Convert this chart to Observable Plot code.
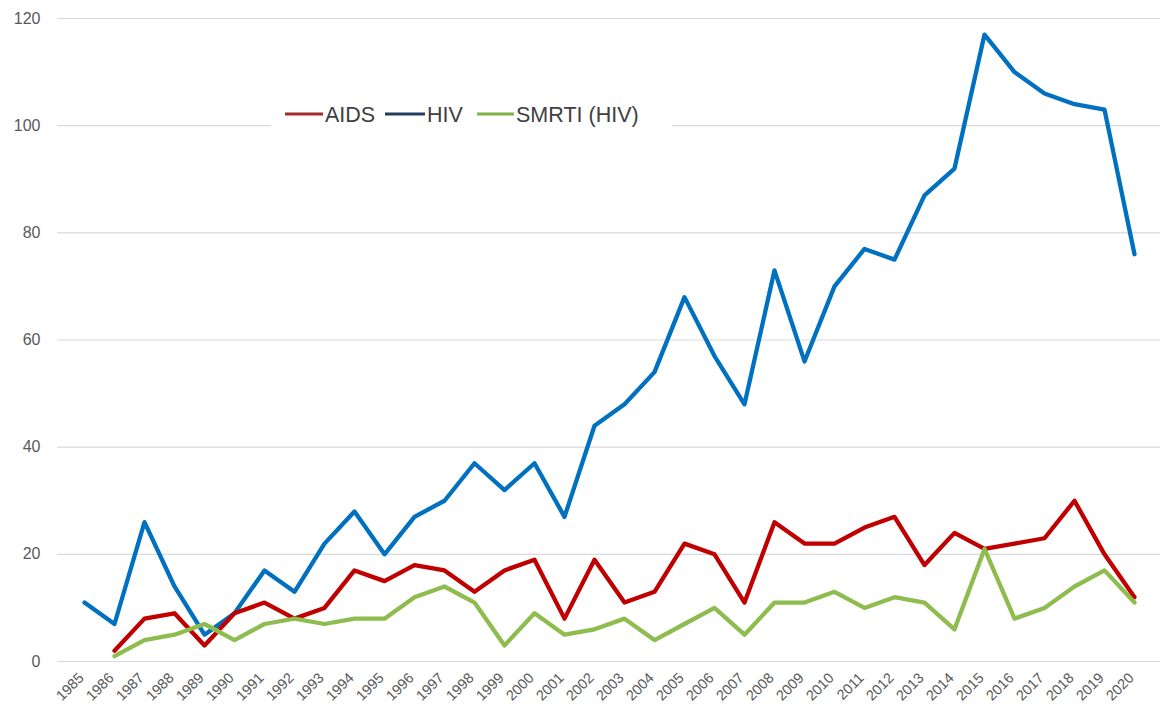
<!DOCTYPE html>
<html>
<head>
<meta charset="utf-8">
<script src="https://cdn.jsdelivr.net/npm/d3@7"></script>
<script src="https://cdn.jsdelivr.net/npm/@observablehq/plot@0.6"></script>
<style>
  html, body { margin: 0; padding: 0; background: #fff; }
  #chart svg { display: block; font-family: "Liberation Sans", Arial, sans-serif; }
</style>
</head>
<body>
<div id="chart"></div>
<script>
// ---- data ----
const years = [1985,1986,1987,1988,1989,1990,1991,1992,1993,1994,1995,1996,1997,1998,1999,2000,2001,2002,2003,2004,2005,2006,2007,2008,2009,2010,2011,2012,2013,2014,2015,2016,2017,2018,2019,2020];
const aids  = [null,2,8,9,3,9,11,8,10,17,15,18,17,13,17,19,8,19,11,13,22,20,11,26,22,22,25,27,18,24,21,22,23,30,20,12];
const hiv   = [11,7,26,14,5,9,17,13,22,28,20,27,30,37,32,37,27,44,48,54,68,57,48,73,56,70,77,75,87,92,117,110,106,104,103,76];
const smrti = [null,1,4,5,7,4,7,8,7,8,8,12,14,11,3,9,5,6,8,4,7,10,5,11,11,13,10,12,11,6,21,8,10,14,17,11];
const seriesNames = ["AIDS", "HIV", "SMRTI (HIV)"];
const yTicks = [0, 20, 40, 60, 80, 100, 120];

const seriesColors = {"AIDS": "#c00000", "HIV": "#0070c0", "SMRTI (HIV)": "#8fbc4f"};
const legendColors = {"AIDS": "#a52a2a", "HIV": "#243a5e", "SMRTI (HIV)": "#7fb24a"};

const table = [];
const drawOrder = ["HIV", "AIDS", "SMRTI (HIV)"];
const valuesBy = {"AIDS": aids, "HIV": hiv, "SMRTI (HIV)": smrti};
for (const s of drawOrder) {
  years.forEach((yr, i) => {
    const v = valuesBy[s][i];
    if (v != null) table.push({year: yr, value: v, series: s});
  });
}

const W = 1161, H = 716;
const chart = Plot.plot({
  width: W,
  height: H,
  marginLeft: 57,
  marginRight: 1,
  marginTop: 18,
  marginBottom: 55,
  style: {fontFamily: "'Liberation Sans', Arial, sans-serif"},
  x: {type: "point", domain: years, padding: 0.5},
  y: {domain: [0, 120]},
  marks: [
    Plot.ruleY(yTicks, {stroke: "#d9d9d9", strokeWidth: 1.2}),
    Plot.axisY({ticks: yTicks, tickSize: 0, tickPadding: 17, fontSize: 16, color: "#595959", label: null}),
    Plot.axisX({tickRotate: -45, tickSize: 0, tickPadding: 14, dx: -3, fontSize: 14.5, textAnchor: "end", lineAnchor: "middle",
                color: "#595959", label: null, tickFormat: d => String(d)}),
    ...drawOrder.map(s => Plot.line(table.filter(d => d.series === s), {
      x: "year", y: "value",
      stroke: seriesColors[s], strokeWidth: 4.3,
      strokeLinejoin: "round", strokeLinecap: "round"
    }))
  ]
});

const svg = d3.select(chart);
// legend inside plot area (pixel layout)
const lg = svg.append("g").attr("class", "legend").attr("text-anchor", "start");
lg.append("rect").attr("x", 271).attr("y", 97).attr("width", 401).attr("height", 32).attr("fill", "#fff");
const items = [
  {name: "AIDS", x1: 285, x2: 323, tx: 325},
  {name: "HIV", x1: 385, x2: 425, tx: 427},
  {name: "SMRTI (HIV)", x1: 477, x2: 514, tx: 516}
];
for (const it of items) {
  lg.append("line").attr("x1", it.x1).attr("x2", it.x2).attr("y1", 114).attr("y2", 114)
    .attr("stroke", legendColors[it.name]).attr("stroke-width", 3);
  lg.append("text").attr("x", it.tx).attr("y", 114).attr("dy", "0.35em")
    .style("text-anchor", "start").style("font-size", "21.5px")
    .attr("fill", "#404040")
    .text(it.name);
}

document.getElementById("chart").appendChild(chart);
</script>
</body>
</html>
